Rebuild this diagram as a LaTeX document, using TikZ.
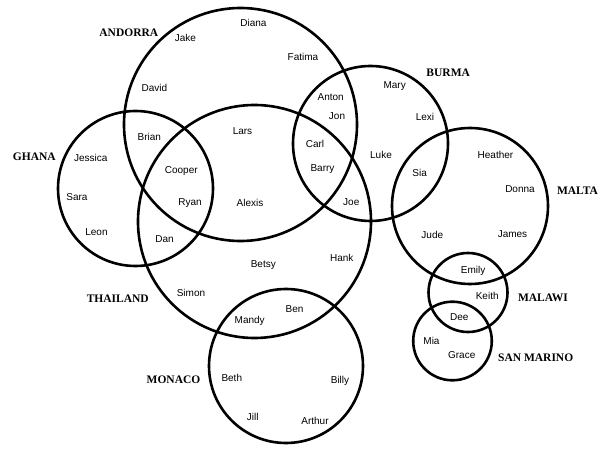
\documentclass[tikz,border=0pt]{standalone}
\usepackage{fontspec}
\setmainfont{Liberation Sans}
\newfontfamily\countryfont{Liberation Serif}
\begin{document}
\begin{tikzpicture}[x=1pt,y=-1pt,
  ring/.style={line width=2.6pt},
  person/.style={inner sep=0pt,text height=7.2pt,text depth=0pt,anchor=center,font=\fontsize{10}{12}\selectfont},
  country/.style={inner sep=0pt,text height=7.6pt,text depth=0pt,anchor=center,font=\countryfont\bfseries\fontsize{11.5}{13}\selectfont}]
\useasboundingbox (0,0) rectangle (611,449);
% circles
\draw[ring] (240.5,124.5) circle (116.5); % Andorra
\draw[ring] (135.5,188.5) circle (77.5);  % Ghana
\draw[ring] (254.5,221.5) circle (116.5); % Thailand
\draw[ring] (370.5,143.5) circle (77.5);  % Burma
\draw[ring] (470,206) circle (78);        % Malta
\draw[ring] (468,292.5) circle (39.5);    % Malawi
\draw[ring] (452.5,341) circle (39.3);    % San Marino
\draw[ring] (286,366) circle (77);        % Monaco
% country labels
\node[country] (andorra) at (128.8,33) {ANDORRA};
\node[country] (ghana) at (34.3,157) {GHANA};
\node[country] (burma) at (448.2,73) {BURMA};
\node[country] (malta) at (577.5,190.7) {MALTA};
\node[country] (thailand) at (117.8,299) {THAILAND};
\node[country] (monaco) at (173.5,380) {MONACO};
\node[country] (malawi) at (543,298) {MALAWI};
\node[country] (sanmarino) at (535.7,357.7) {SAN MARINO};
% people
\node[person] (diana) at (253.5,23) {Diana};
\node[person] (jake) at (185.5,38) {Jake};
\node[person] (fatima) at (303,57) {Fatima};
\node[person] (david) at (154.5,88) {David};
\node[person] (brian) at (149.3,137) {Brian};
\node[person] (lars) at (242.5,131) {Lars};
\node[person] (jessica) at (90.8,158) {Jessica};
\node[person] (cooper) at (181.3,170) {Cooper};
\node[person] (sara) at (77,197) {Sara};
\node[person] (ryan) at (190,202) {Ryan};
\node[person] (alexis) at (250,203) {Alexis};
\node[person] (leon) at (96.5,231.7) {Leon};
\node[person] (mary) at (394.7,85) {Mary};
\node[person] (anton) at (330.7,96.7) {Anton};
\node[person] (jon) at (337,115.7) {Jon};
\node[person] (lexi) at (425,116.7) {Lexi};
\node[person] (carl) at (315,144) {Carl};
\node[person] (luke) at (381,155.3) {Luke};
\node[person] (heather) at (495.5,155.3) {Heather};
\node[person] (barry) at (322.5,168.3) {Barry};
\node[person] (sia) at (419.7,173.3) {Sia};
\node[person] (donna) at (520,189.3) {Donna};
\node[person] (joe) at (351.3,202.3) {Joe};
\node[person] (dan) at (164.5,239.3) {Dan};
\node[person] (betsy) at (263.3,264.3) {Betsy};
\node[person] (simon) at (191,293.3) {Simon};
\node[person] (ben) at (294.5,309.3) {Ben};
\node[person] (mandy) at (249.7,320.3) {Mandy};
\node[person] (beth) at (231.8,378.3) {Beth};
\node[person] (jill) at (252.8,417.3) {Jill};
\node[person] (jude) at (432.3,235) {Jude};
\node[person] (james) at (512.5,234.3) {James};
\node[person] (hank) at (341.7,258.3) {Hank};
\node[person] (emily) at (473.2,270) {Emily};
\node[person] (keith) at (487.2,296.3) {Keith};
\node[person] (dee) at (459.3,316.7) {Dee};
\node[person] (mia) at (431.5,341) {Mia};
\node[person] (grace) at (461.7,355.3) {Grace};
\node[person] (billy) at (340,380.3) {Billy};
\node[person] (arthur) at (315,421.3) {Arthur};
\end{tikzpicture}
\end{document}
